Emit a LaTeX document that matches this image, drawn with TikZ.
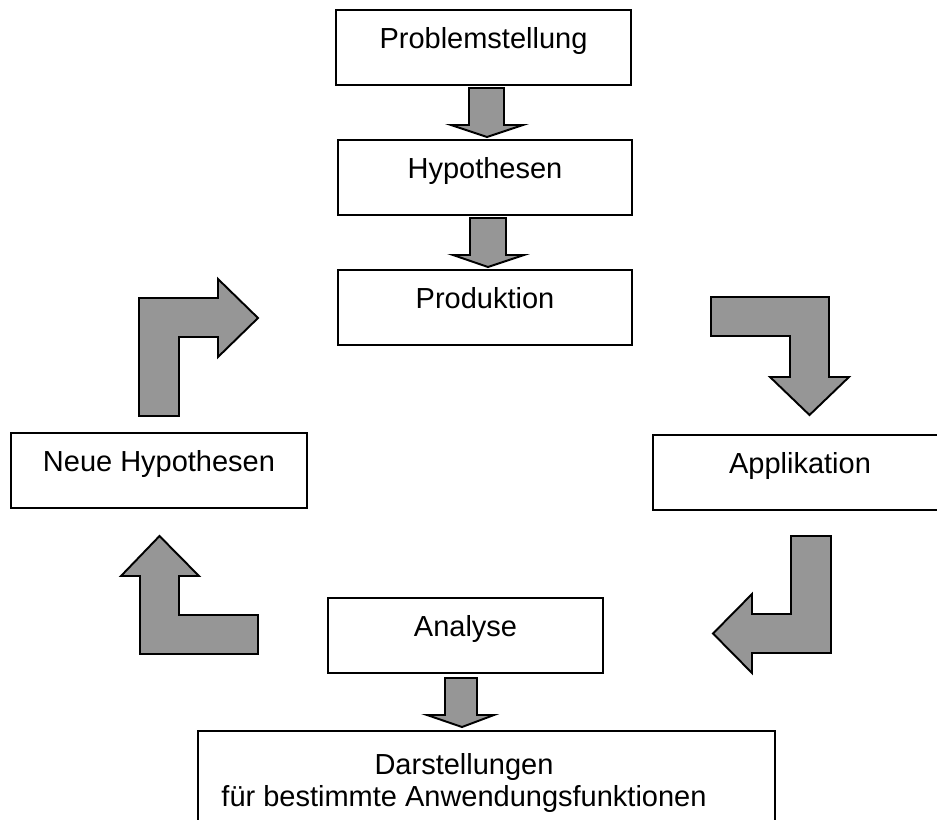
\documentclass[tikz,border=0pt]{standalone}
\usepackage{fontspec}
\setmainfont{Liberation Sans}
\usepackage{tikz}
\definecolor{arrowgray}{RGB}{150,150,150}

\begin{document}
\begin{tikzpicture}[x=0.02cm,y=-0.02cm]
      \useasboundingbox(0,0) rectangle (937,819);
      \tikzset{B/.style = {draw, line width=1.1pt, inner sep=0pt, minimum height=1.5cm,
          text height=11.8pt, text depth=10.8pt, font=\fontsize{16.5}{18.2}\selectfont}}
      \tikzset{F/.style = {draw, line width=1.1pt, fill=arrowgray, line join=miter}}
      \node[B, minimum width=5.9cm](prob) at (483.5,47.5) {Problemstellung};
      \node[B, minimum width=5.88cm](hyp) at (485,177.5) {Hypothesen};
      \node[B, minimum width=5.88cm](prod) at (485,307.5) {Produktion};
      \node[B, minimum width=5.92cm](neu) at (159,470.5) {Neue Hypothesen};
      \node[B, minimum width=5.88cm](appl) at (800,472.5) {Applikation};
      \node[B, minimum width=5.5cm](ana) at (465.5,635.5) {Analyse};
      \node[draw, line width=1.1pt, minimum width=11.54cm, minimum height=2cm,
          anchor=north](dar) at (486.5,730) {};
      \node[align=center, inner sep=0pt, font=\fontsize{16.5}{18.2}\selectfont](dartxt)
          at (464,783) {Darstellungen\\für bestimmte Anwendungsfunktionen};
      % straight arrows
      \draw[F] (469,88) -- (504,88) -- (504,125) -- (523,125) -- (487,137) -- (451,125) -- (469,125) -- cycle;
      \draw[F] (470,218) -- (506,218) -- (506,255) -- (524,255) -- (488,267) -- (453,255) -- (470,255) -- cycle;
      \draw[F] (445,678) -- (477,678) -- (477,715) -- (494,715) -- (462,727) -- (427,715) -- (445,715) -- cycle;
      % bent arrows
      \draw[F] (711,297) -- (829,297) -- (829,377) -- (849,377) -- (809.5,415) -- (770,377) -- (790,377) -- (790,336) -- (711,336) -- cycle;
      \draw[F] (791,536) -- (831,536) -- (831,653) -- (752,653) -- (752,673) -- (713,633.5) -- (752,594) -- (752,614) -- (791,614) -- cycle;
      \draw[F] (258,615) -- (258,654) -- (140,654) -- (140,576) -- (121,576) -- (159.5,536) -- (199,576) -- (179,576) -- (179,615) -- cycle;
      \draw[F] (139,416) -- (139,298) -- (218,298) -- (218,279) -- (258,318) -- (218,357) -- (218,337) -- (179,337) -- (179,416) -- cycle;
    \end{tikzpicture}
\end{document}
